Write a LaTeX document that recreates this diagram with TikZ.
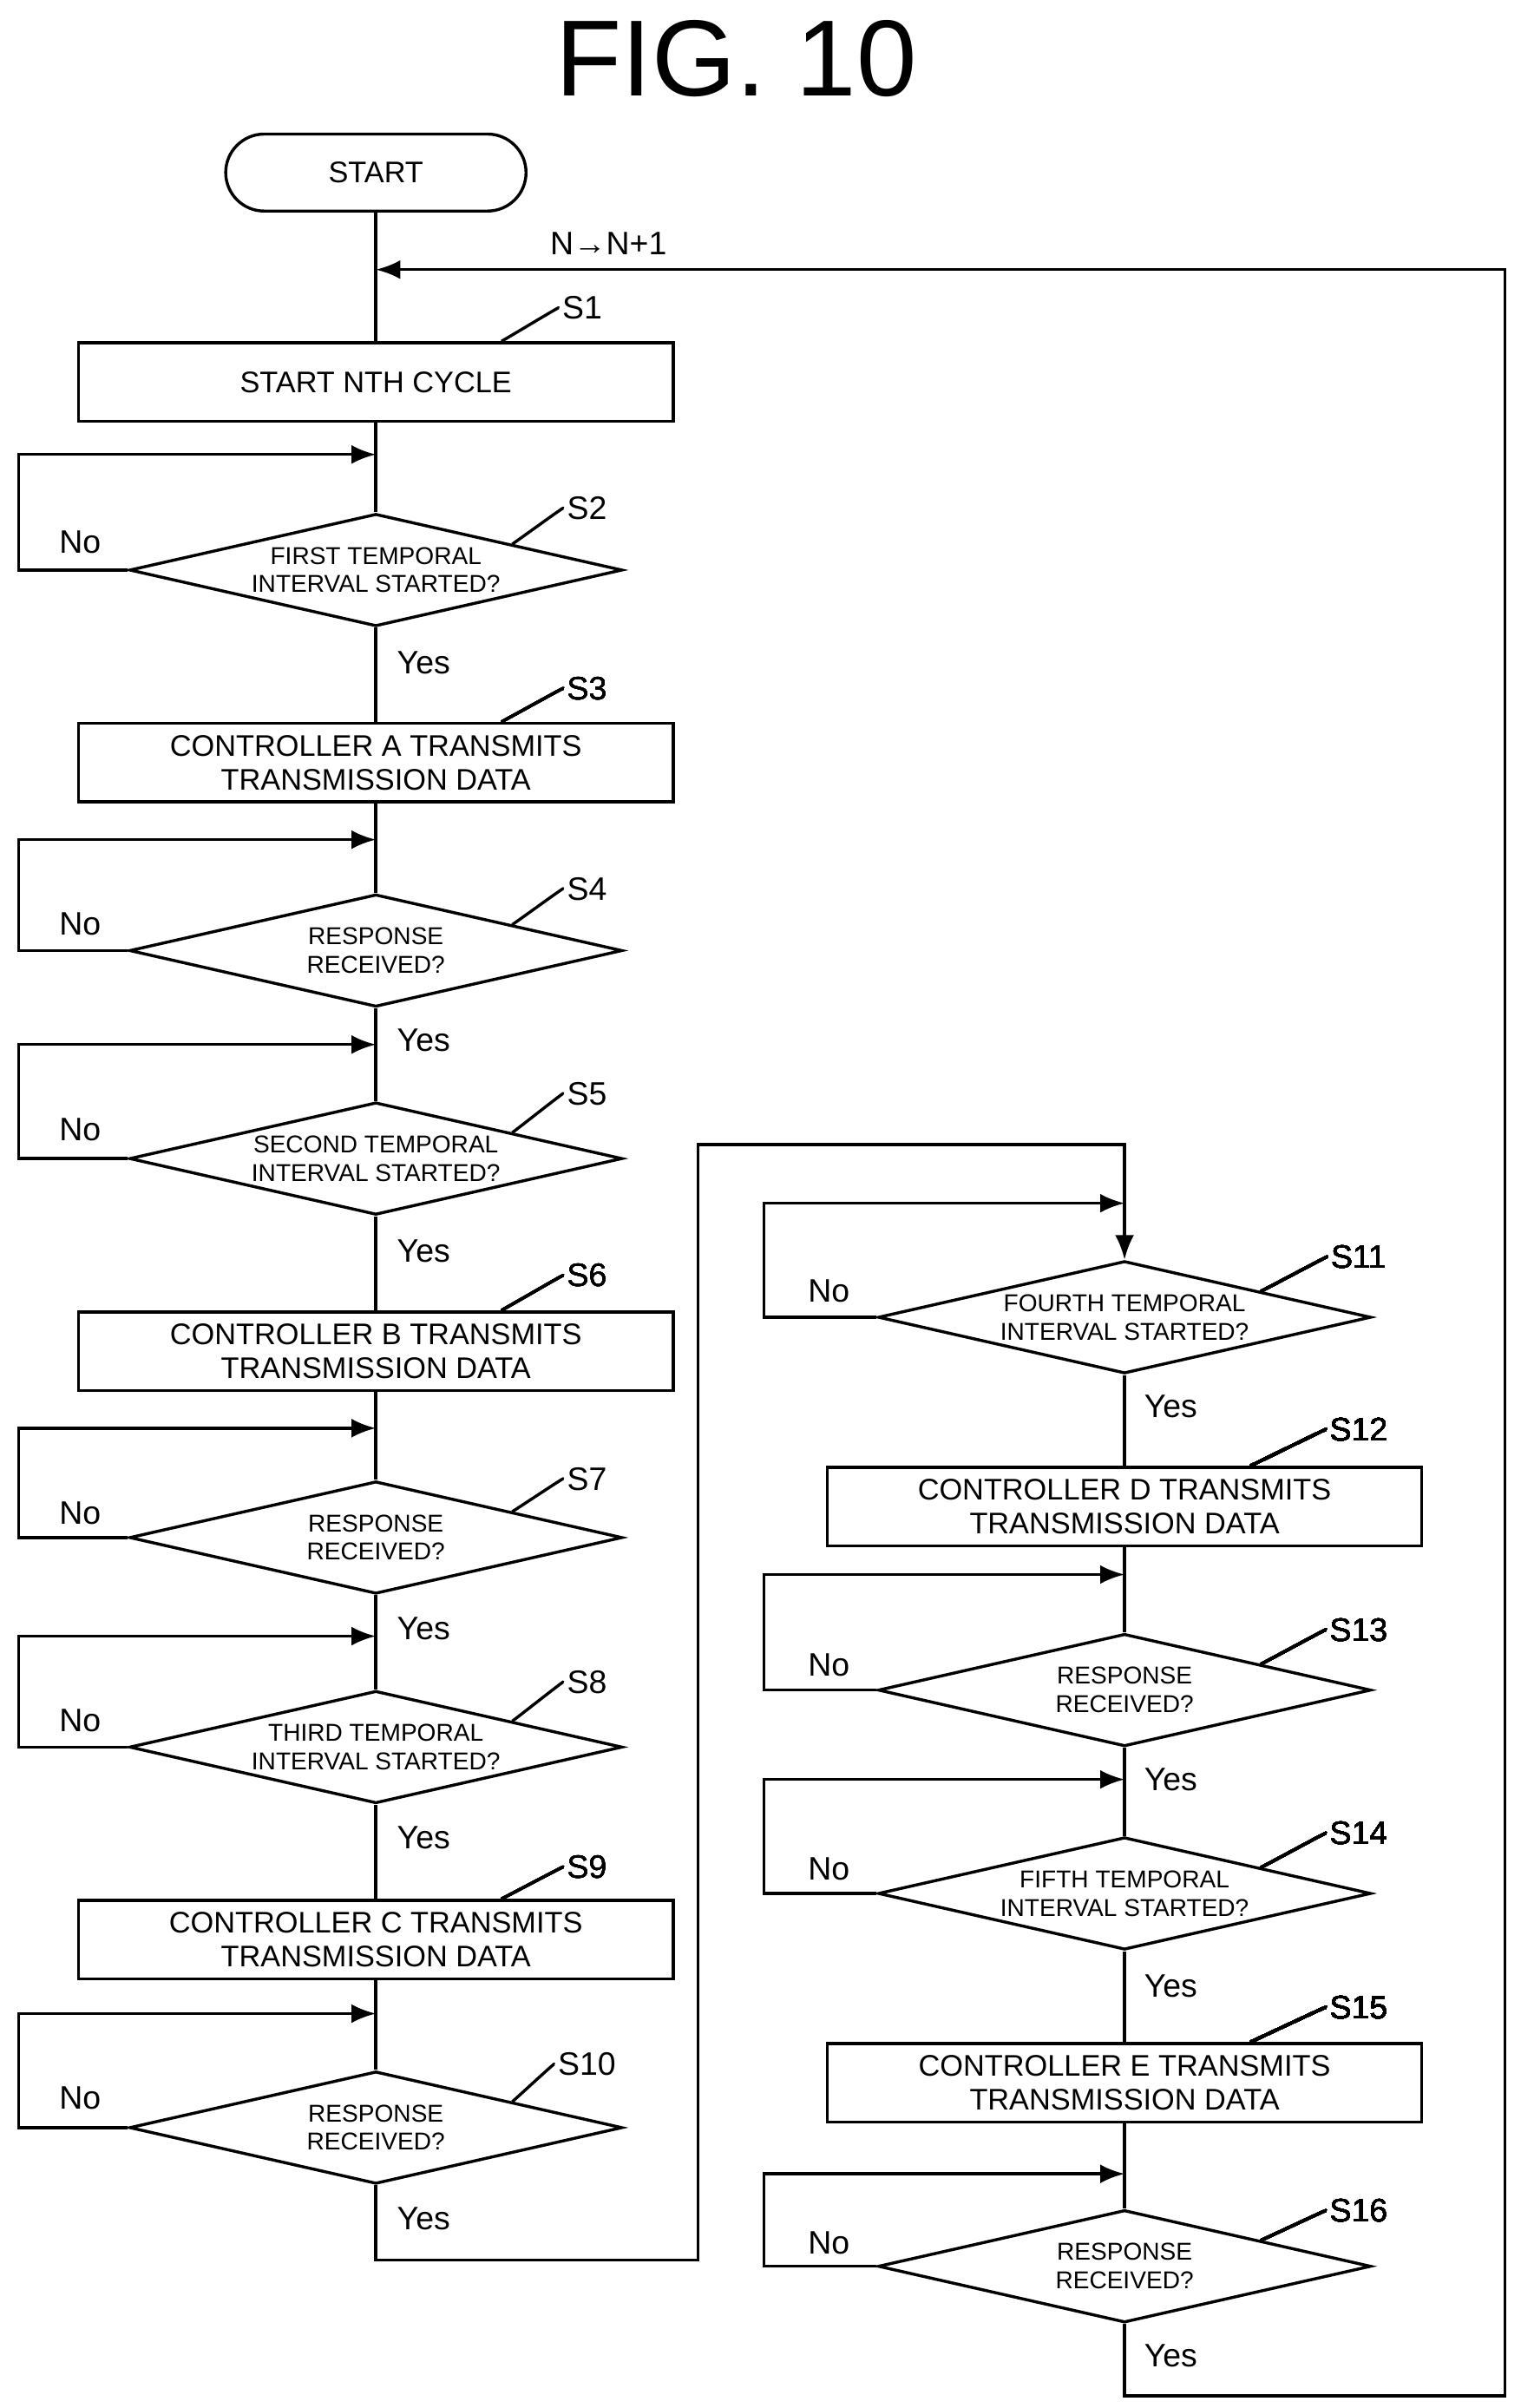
\documentclass[tikz,border=0pt]{standalone}
\usepackage{fontspec}
\setmainfont{Liberation Sans}
\usetikzlibrary{shapes.geometric,arrows.meta,calc}
\tikzset{
  stepbox/.style={draw, line width=1.1pt, minimum width=7.72cm, minimum height=1.02cm,
    inner sep=0pt, align=center, font=\fontsize{11}{12.5}\selectfont},
  decide/.style={draw, diamond, line width=1.1pt, minimum width=6.4cm, minimum height=1.46cm,
    shape aspect=4.3, inner sep=0pt, align=center, font=\fontsize{9}{10.5}\selectfont},
  steplabel/.style={font=\fontsize{12}{14}\selectfont, inner sep=1pt},
  answer/.style={font=\fontsize{12}{14}\selectfont, inner sep=1pt},
  flow/.style={line width=1.1pt},
  arr/.style={flow, -{Latex[length=9pt,width=7pt]}}
}
% step number with its small wave towards the shape
\newcommand{\steptag}[4]{%
  \node[steplabel] (#1l) at #2 {#3};
  \draw[flow] (#1l.west) .. controls +(-0.35,0) and +(0.3,0.2) .. ($(#1l.west)+(-0.55,-0.15)$)
    .. controls +(-0.3,-0.2) and +(0.3,0.05) .. (#4);}
\begin{document}
\begin{tikzpicture}[x=0.02cm, y=-0.02cm]
  \useasboundingbox (0,0) rectangle (987,1563);
  \node[font=\fontsize{40}{44}\selectfont] (title) at (478,38) {FIG. 10};
  % left column
  \node[draw, line width=1.1pt, rounded corners=0.5cm, minimum width=3.9cm, minimum height=1cm,
    font=\fontsize{11}{12.5}\selectfont] (start) at (244,112) {START};
  \node[stepbox] (s1) at (244,248) {START NTH CYCLE};
  \node[decide] (s2) at (244,370) {FIRST TEMPORAL\\INTERVAL STARTED?};
  \node[stepbox] (s3) at (244,495) {CONTROLLER A TRANSMITS\\TRANSMISSION DATA};
  \node[decide] (s4) at (244,617) {RESPONSE\\RECEIVED?};
  \node[decide] (s5) at (244,752) {SECOND TEMPORAL\\INTERVAL STARTED?};
  \node[stepbox] (s6) at (244,877) {CONTROLLER B TRANSMITS\\TRANSMISSION DATA};
  \node[decide] (s7) at (244,998) {RESPONSE\\RECEIVED?};
  \node[decide] (s8) at (244,1134) {THIRD TEMPORAL\\INTERVAL STARTED?};
  \node[stepbox] (s9) at (244,1259) {CONTROLLER C TRANSMITS\\TRANSMISSION DATA};
  \node[decide] (s10) at (244,1381) {RESPONSE\\RECEIVED?};
  % right column
  \node[decide] (s11) at (730,855) {FOURTH TEMPORAL\\INTERVAL STARTED?};
  \node[stepbox] (s12) at (730,978) {CONTROLLER D TRANSMITS\\TRANSMISSION DATA};
  \node[decide] (s13) at (730,1097) {RESPONSE\\RECEIVED?};
  \node[decide] (s14) at (730,1229) {FIFTH TEMPORAL\\INTERVAL STARTED?};
  \node[stepbox] (s15) at (730,1352) {CONTROLLER E TRANSMITS\\TRANSMISSION DATA};
  \node[decide] (s16) at (730,1471) {RESPONSE\\RECEIVED?};
  % step tags
  \steptag{s1}{(378,200)}{S1}{$(s1.north)!0.42!(s1.north east)$}
  \foreach \n/\y in {2/330,4/577,5/710,7/960,8/1092,10/1340}
    \steptag{s\n}{(381,\y)}{S\n}{$(s\n.north)!0.55!(s\n.east)$}
  \foreach \n/\y in {3/447,6/828,9/1212}
    \steptag{s\n}{(381,\y)}{S\n}{$(s\n.north)!0.42!(s\n.north east)$}
  \foreach \n/\y in {11/816,13/1058,14/1190,16/1435}
    \steptag{s\n}{(882,\y)}{S\n}{$(s\n.north)!0.55!(s\n.east)$}
  \foreach \n/\y in {12/928,15/1303}
    \steptag{s\n}{(882,\y)}{S\n}{$(s\n.north)!0.42!(s\n.north east)$}
  % main flow, left
  \coordinate (back) at (244,175);
  \draw[flow] (start) -- (s1);
  \draw[flow] (s1) -- (s2);
  \draw[flow] (s2) -- (s3);
  \draw[flow] (s3) -- (s4);
  \draw[flow] (s4) -- (s5);
  \draw[flow] (s5) -- (s6);
  \draw[flow] (s6) -- (s7);
  \draw[flow] (s7) -- (s8);
  \draw[flow] (s8) -- (s9);
  \draw[flow] (s9) -- (s10);
  % waiting loops, left
  \foreach \n/\y in {2/295,4/545,5/678,7/927,8/1062,10/1307} {
    \coordinate (w\n) at (244,\y);
    \draw[arr] (s\n.west) -| (12,\y) -- (w\n);
    \node[answer] at (52,{\y+(\n==2 ? 60 : 58)-3}) {No};
  }
  \foreach \n/\y in {2/430,4/675,5/812,7/1057,8/1193,10/1440}
    \node[answer] at (275,\y) {Yes};
  % across to the right column
  \coordinate (c10) at (453,1467);
  \coordinate (c11) at (453,743);
  \draw[arr] (s10.south) |- (c10) -- (c11) -| (s11.north);
  % main flow, right
  \draw[flow] (s11) -- (s12);
  \draw[flow] (s12) -- (s13);
  \draw[flow] (s13) -- (s14);
  \draw[flow] (s14) -- (s15);
  \draw[flow] (s15) -- (s16);
  \foreach \n/\y in {11/781,13/1022,14/1155,16/1411} {
    \coordinate (w\n) at (730,\y);
    \draw[arr] (s\n.west) -| (496,\y) -- (w\n);
  }
  \foreach \n/\y in {11/838,13/1081,14/1213,16/1456}
    \node[answer] at (538,\y) {No};
  \foreach \n/\y in {11/913,13/1155,14/1289,16/1529}
    \node[answer] at (760,\y) {Yes};
  % next cycle
  \coordinate (c16) at (977,1555);
  \draw[arr] (s16.south) |- (c16) |- (back);
  \node[answer] at (395,158) {N→N+1};
\end{tikzpicture}
\end{document}
